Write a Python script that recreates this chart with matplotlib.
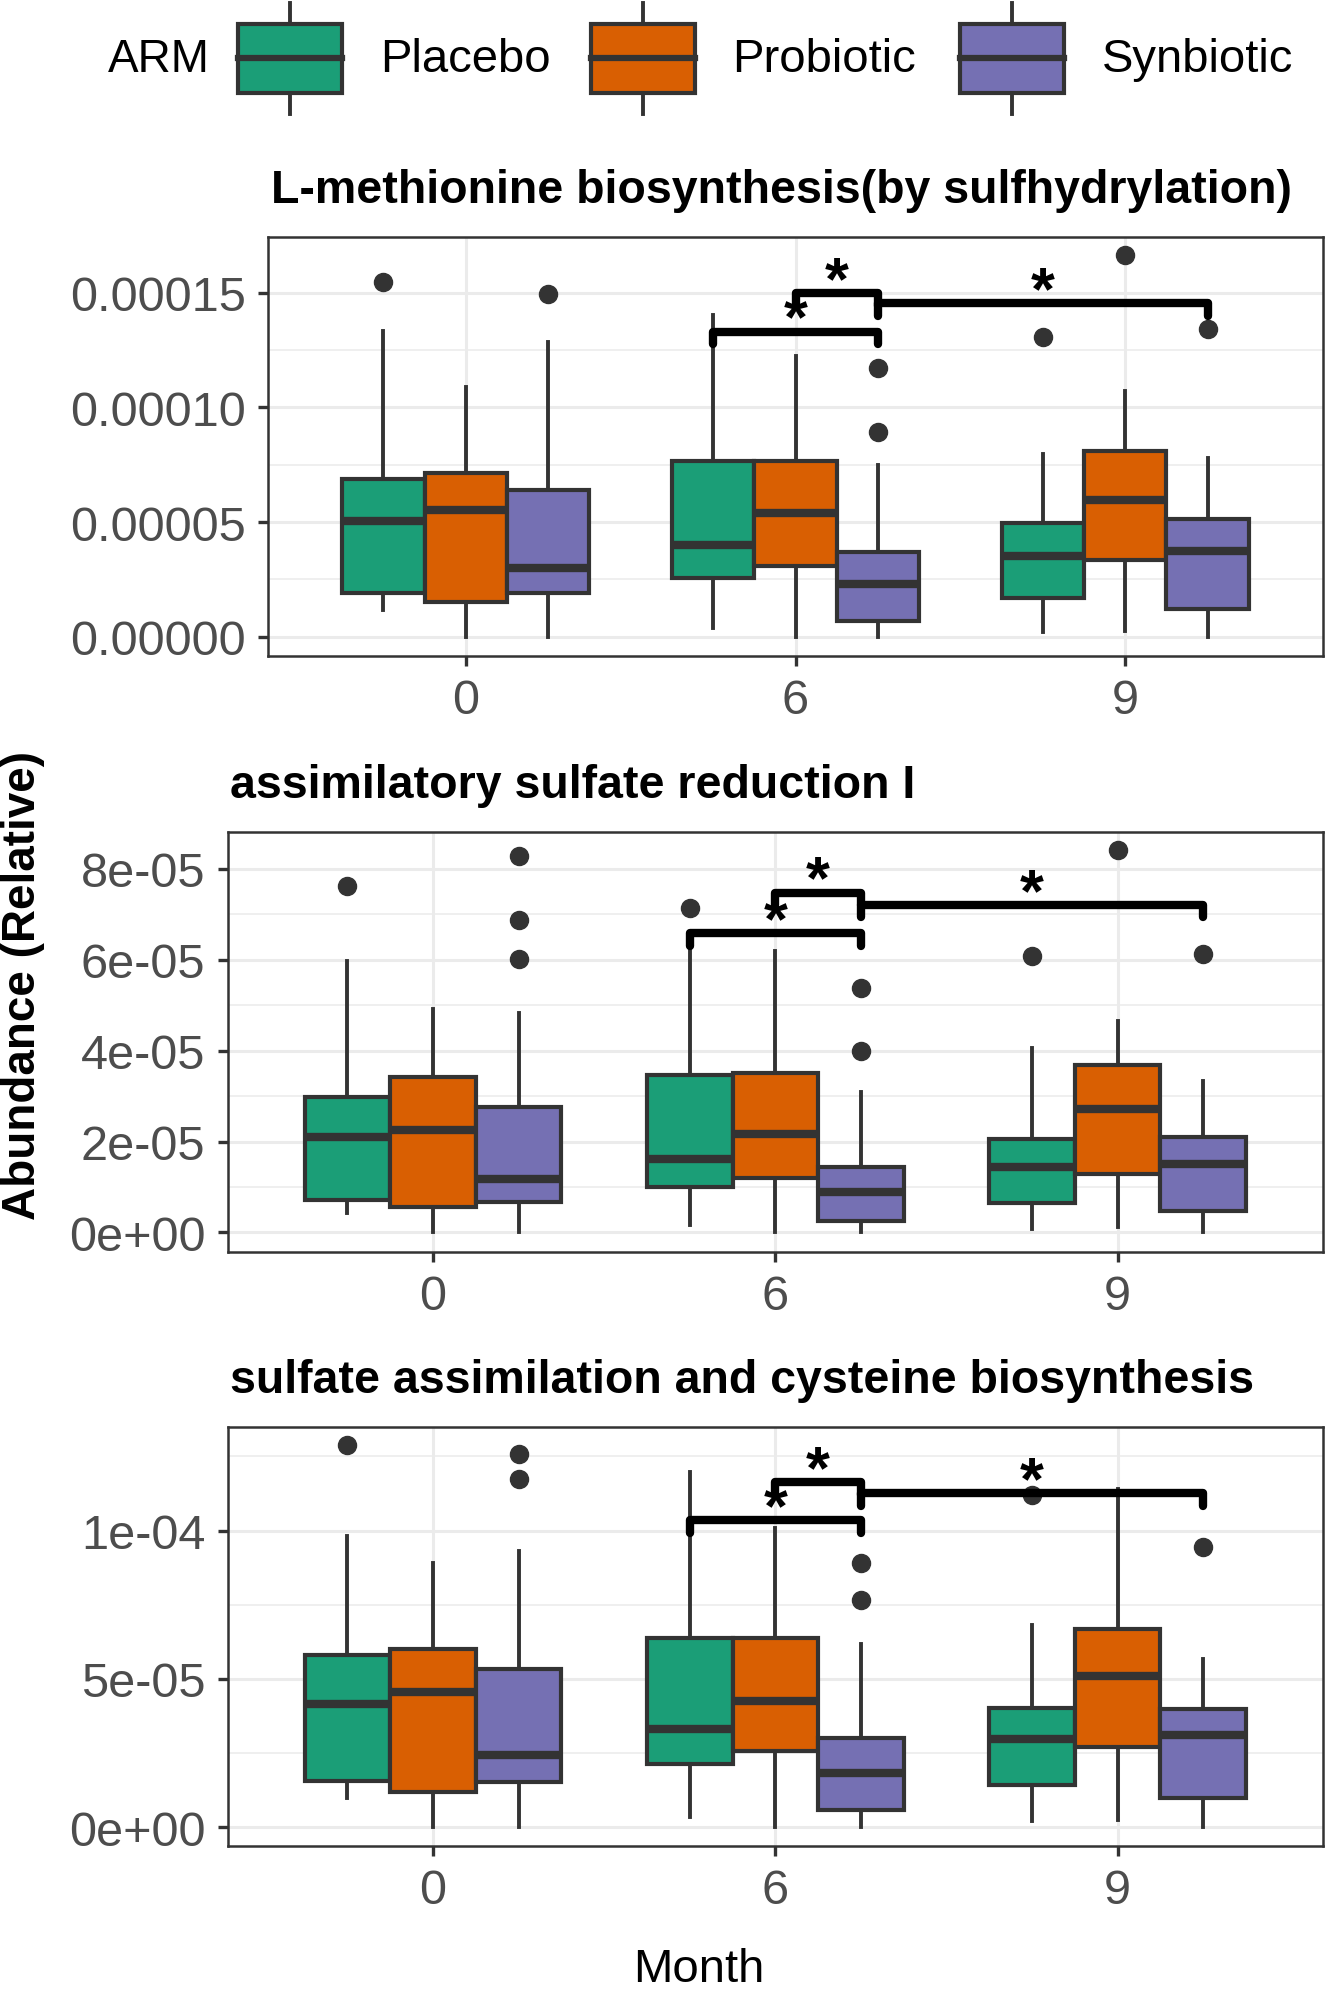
import numpy as np
import matplotlib
matplotlib.use("Agg")
import matplotlib.pyplot as plt
from matplotlib.patches import Rectangle
from matplotlib.ticker import FixedLocator
from matplotlib import transforms

plt.rcParams['font.family'] = ['Liberation Sans', 'DejaVu Sans']

months = ["0", "6", "9"]
arms = ["Placebo", "Probiotic", "Synbiotic"]
arm_colors = ["#1B9E77", "#D95F02", "#7570B3"]

# box stats, rows = month (0, 6, 9), cols = arm (Placebo, Probiotic, Synbiotic)
# --- L-methionine biosynthesis
met_low = [[1.17e-5, 0.0, 0.0], [3.9e-6, 0.0, 0.0], [2.0e-6, 2.5e-6, 0.0]]
met_q1 = [[1.9e-5, 1.5e-5, 1.9e-5], [2.57e-5, 3.07e-5, 7.0e-6], [1.71e-5, 3.37e-5, 1.23e-5]]
met_med = [[5.07e-5, 5.52e-5, 3.0e-5], [4.01e-5, 5.41e-5, 2.3e-5], [3.52e-5, 5.97e-5, 3.75e-5]]
met_q3 = [[6.86e-5, 7.14e-5, 6.38e-5], [7.68e-5, 7.65e-5, 3.7e-5], [4.96e-5, 8.09e-5, 5.12e-5]]
met_high = [[1.333e-4, 1.09e-4, 1.284e-4], [1.405e-4, 1.226e-4, 7.47e-5], [7.98e-5, 1.07e-4, 7.78e-5]]
met_out = [[[1.549e-4], [], [1.496e-4]],
           [[], [], [1.173e-4, 8.95e-5]],
           [[1.305e-4], [1.663e-4], [1.342e-4]]]
met_sig = [1.331e-4, 1.499e-4, 1.455e-4]

# --- assimilatory sulfate reduction I
asr_low = [[4.3e-6, 0.0, 0.0], [1.6e-6, 0.0, 0.0], [8e-7, 1.1e-6, 0.0]]
asr_q1 = [[7.2e-6, 5.6e-6, 6.8e-6], [1.0e-5, 1.2e-5, 2.5e-6], [6.5e-6, 1.29e-5, 4.7e-6]]
asr_med = [[2.1e-5, 2.25e-5, 1.18e-5], [1.61e-5, 2.16e-5, 8.8e-6], [1.45e-5, 2.71e-5, 1.5e-5]]
asr_q3 = [[2.98e-5, 3.42e-5, 2.75e-5], [3.46e-5, 3.51e-5, 1.45e-5], [2.05e-5, 3.68e-5, 2.09e-5]]
asr_high = [[5.97e-5, 4.92e-5, 4.83e-5], [6.4e-5, 6.2e-5, 3.09e-5], [4.06e-5, 4.66e-5, 3.34e-5]]
asr_out = [[[7.62e-5], [], [8.29e-5, 6.88e-5, 6.02e-5]],
           [[7.15e-5], [], [5.37e-5, 4.0e-5]],
           [[6.08e-5], [8.41e-5], [6.12e-5]]]
asr_sig = [6.59e-5, 7.48e-5, 7.21e-5]

# --- sulfate assimilation and cysteine biosynthesis
sac_low = [[9.8e-6, 0.0, 0.0], [3.6e-6, 0.0, 0.0], [2.1e-6, 2.5e-6, 0.0]]
sac_q1 = [[1.56e-5, 1.19e-5, 1.54e-5], [2.12e-5, 2.57e-5, 5.7e-6], [1.44e-5, 2.7e-5, 1.0e-5]]
sac_med = [[4.15e-5, 4.57e-5, 2.44e-5], [3.3e-5, 4.27e-5, 1.82e-5], [2.97e-5, 5.11e-5, 3.1e-5]]
sac_q3 = [[5.81e-5, 6.0e-5, 5.34e-5], [6.37e-5, 6.37e-5, 3.0e-5], [4.02e-5, 6.68e-5, 3.99e-5]]
sac_high = [[9.83e-5, 8.91e-5, 9.3e-5], [1.198e-4, 1.01e-4, 6.17e-5], [6.82e-5, 1.14e-4, 5.66e-5]]
sac_out = [[[1.288e-4], [], [1.257e-4, 1.173e-4]],
           [[], [], [8.9e-5, 7.65e-5]],
           [[1.12e-4], [], [9.44e-5]]]
sac_sig = [1.035e-4, 1.163e-4, 1.126e-4]

# significance comparisons: (month idx, arm idx) pairs
sig_pairs = [((1, 0), (1, 2)), ((1, 1), (1, 2)), ((1, 2), (2, 2))]
sig_label = "*"

panels = [
    dict(title="L-methionine biosynthesis(by sulfhydrylation)",
         low=met_low, q1=met_q1, med=met_med, q3=met_q3, high=met_high, out=met_out, sig=met_sig,
         yticks=[0.0, 5e-5, 1e-4, 1.5e-4], ylabels=["0.00000", "0.00005", "0.00010", "0.00015"],
         minor=[2.5e-5, 7.5e-5, 1.25e-4], ylim=(-8.4e-6, 1.743e-4),
         rect=[0.2023, 0.6698, 0.7962, 0.2106]),
    dict(title="assimilatory sulfate reduction I",
         low=asr_low, q1=asr_q1, med=asr_med, q3=asr_q3, high=asr_high, out=asr_out, sig=asr_sig,
         yticks=[0.0, 2e-5, 4e-5, 6e-5, 8e-5], ylabels=["0e+00", "2e-05", "4e-05", "6e-05", "8e-05"],
         minor=[1e-5, 3e-5, 5e-5, 7e-5], ylim=(-4.2e-6, 8.82e-5),
         rect=[0.1718, 0.3706, 0.8267, 0.2110]),
    dict(title="sulfate assimilation and cysteine biosynthesis",
         low=sac_low, q1=sac_q1, med=sac_med, q3=sac_q3, high=sac_high, out=sac_out, sig=sac_sig,
         yticks=[0.0, 5e-5, 1e-4], ylabels=["0e+00", "5e-05", "1e-04"],
         minor=[2.5e-5, 7.5e-5, 1.25e-4], ylim=(-6.1e-6, 1.348e-4),
         rect=[0.1718, 0.0721, 0.8267, 0.2102]),
]

edge = "#333333"
dodge = 0.25

fig = plt.figure(figsize=(13.25, 19.9), dpi=100)

for p in panels:
    ax = fig.add_axes(p["rect"])
    for m in range(len(months)):
        for a in range(len(arms)):
            st = dict(whislo=p["low"][m][a], q1=p["q1"][m][a], med=p["med"][m][a],
                      q3=p["q3"][m][a], whishi=p["high"][m][a], fliers=p["out"][m][a])
            pos = m + 1 + (a - 1) * dodge
            ax.bxp([st], positions=[pos], widths=dodge, patch_artist=True,
                   showcaps=False, manage_ticks=False,
                   boxprops=dict(facecolor=arm_colors[a], edgecolor=edge, linewidth=3.0),
                   medianprops=dict(color=edge, linewidth=6, solid_capstyle='butt'),
                   whiskerprops=dict(color=edge, linewidth=2.8),
                   flierprops=dict(marker='o', markerfacecolor=edge, markeredgecolor=edge,
                                   markersize=13, linestyle='none'),
                   zorder=3)

    ax.set_xlim(0.4, 3.6)
    ax.set_ylim(*p["ylim"])
    ax.set_xticks([1, 2, 3])
    ax.set_xticklabels(months)
    ax.yaxis.set_major_locator(FixedLocator(p["yticks"]))
    ax.set_yticklabels(p["ylabels"])
    ax.yaxis.set_minor_locator(FixedLocator(p["minor"]))
    ax.grid(True, which='major', color='#EBEBEB', linewidth=2.2, zorder=0)
    ax.grid(True, which='minor', axis='y', color='#EBEBEB', linewidth=1.1, zorder=0)
    ax.set_axisbelow(True)
    ax.tick_params(which='major', length=7, width=2.4, color=edge, labelcolor='#4D4D4D',
                   labelsize=35, pad=9)
    ax.tick_params(which='minor', length=0)
    for s in ax.spines.values():
        s.set_color(edge)
        s.set_linewidth(1.8)

    # significance brackets
    y0, y1 = ax.get_ylim()
    tip = 0.03 * (y1 - y0)
    star_tr = transforms.offset_copy(ax.transData, fig=fig, x=0, y=-5, units='dots')
    for (pa, pb), yb in zip(sig_pairs, p["sig"]):
        xa = pa[0] + 1 + (pa[1] - 1) * dodge
        xb = pb[0] + 1 + (pb[1] - 1) * dodge
        ax.plot([xa, xa, xb, xb], [yb - tip, yb, yb, yb - tip], color='black', linewidth=6,
                solid_capstyle='round', solid_joinstyle='round', zorder=5, clip_on=False)
        ax.text((xa + xb) / 2, yb, sig_label, ha='center', va='baseline', fontsize=44,
                fontweight='bold', transform=star_tr, zorder=6)

    l, b, w, h = p["rect"]
    fig.text(l + 0.002, b + h + 0.0175, p["title"], fontsize=33.5, fontweight='bold',
             ha='left', va='baseline')

# axis labels
fig.text(0.0175, 0.505, "Abundance (Relative)", rotation=90, fontsize=33, fontweight='bold',
         ha='center', va='center')
fig.text(0.5275, 0.004, "Month", fontsize=34, ha='center', va='baseline')

# legend drawn in pixel coordinates along the top
lg = fig.add_axes([0, 1 - 120 / 1990, 1, 120 / 1990])
lg.set_xlim(0, 1325)
lg.set_ylim(120, 0)
lg.axis('off')
lg.text(108, 60, "ARM", fontsize=33, ha='left', va='center')
key_x = [238, 591, 960]
text_x = [380, 732, 1102]
for kx, tx, col, name in zip(key_x, text_x, arm_colors, arms):
    cx = kx + 52
    lg.plot([cx, cx], [4, 24.5], color=edge, linewidth=2.8)
    lg.plot([cx, cx], [94, 115], color=edge, linewidth=2.8)
    lg.add_patch(Rectangle((kx, 24.5), 104, 69.5, facecolor=col, edgecolor=edge, linewidth=3.0))
    lg.plot([kx, kx + 104], [59.4, 59.4], color=edge, linewidth=4.5)
    lg.text(tx, 60, name, fontsize=34, ha='left', va='center')

fig.savefig("out.png", dpi=100)
